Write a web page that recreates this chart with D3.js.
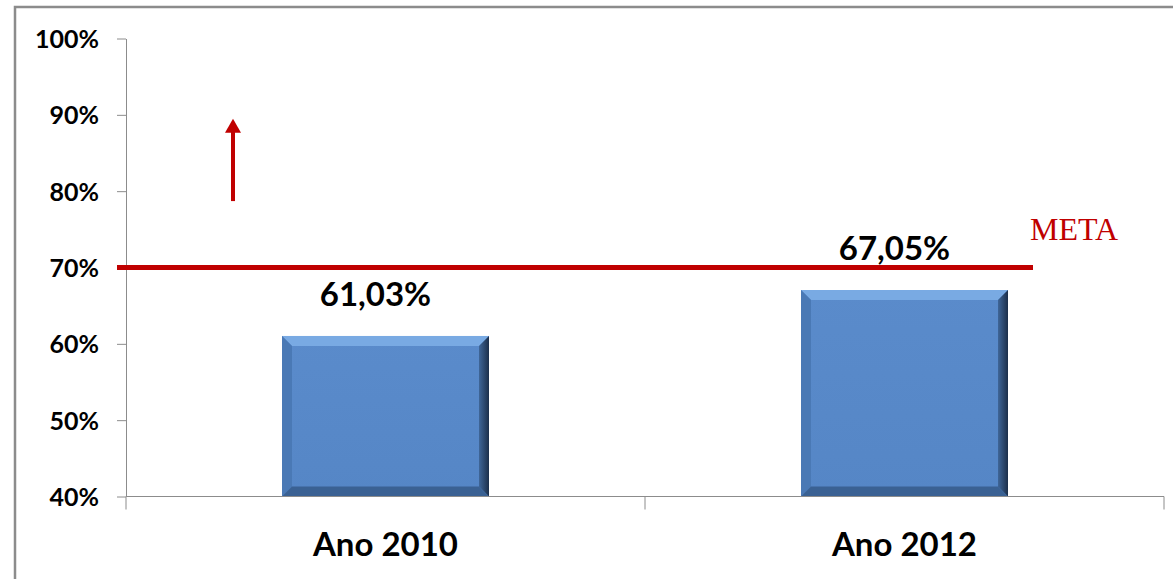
<!DOCTYPE html>
<html>
<head>
<meta charset="utf-8">
<script src="https://cdn.jsdelivr.net/npm/d3@7"></script>
<style>
  body { margin: 0; background: #fff; }
  svg { display: block; }
</style>
</head>
<body>
<div id="chart"></div>
<script>
// data
var categories = ["Ano 2010", "Ano 2012"];
var values = [61.03, 67.05];
var valueLabels = ["61,03%", "67,05%"];
var yTicks = [40, 50, 60, 70, 80, 90, 100];
var meta = 70;
var metaLabel = "META";
var arrowRange = [78.7, 89.5];

var W = 1173, H = 579;
var margin = { top: 38.5, right: 9, bottom: 82.5, left: 126 };
var width = W - margin.left - margin.right,
    height = H - margin.top - margin.bottom;

var svg = d3.select("#chart").append("svg")
    .attr("width", W)
    .attr("height", H);

// outer frame
svg.append("rect")
    .attr("x", 15).attr("y", 7)
    .attr("width", W).attr("height", H)
    .attr("fill", "none")
    .attr("stroke", "#8c8c8c")
    .attr("stroke-width", 2.5);

var defs = svg.append("defs");
var grad = defs.append("linearGradient").attr("id", "barFill")
    .attr("x1", 0).attr("y1", 0).attr("x2", 0).attr("y2", 1);
grad.append("stop").attr("offset", "0%").attr("stop-color", "#5a8bcb");
grad.append("stop").attr("offset", "100%").attr("stop-color", "#5586c6");
var rgrad = defs.append("linearGradient").attr("id", "rightFill")
    .attr("x1", 0).attr("y1", 0).attr("x2", 1).attr("y2", 0);
rgrad.append("stop").attr("offset", "0%").attr("stop-color", "#3f6698");
rgrad.append("stop").attr("offset", "100%").attr("stop-color", "#1c2f4a");

var g = svg.append("g")
    .attr("transform", "translate(" + margin.left + "," + margin.top + ")");

var x = d3.scaleBand()
    .domain(categories)
    .range([0, width]);

var y = d3.scaleLinear()
    .domain([40, 100])
    .range([height, 0]);

var sans = "Lato, 'Open Sans', sans-serif";

// Y axis
var yAxis = g.append("g")
    .call(d3.axisLeft(y).tickValues(yTicks).tickSize(9).tickSizeOuter(0)
        .tickFormat(function (d) { return d + "%"; }));
yAxis.select(".domain").attr("stroke", "#8c8c8c");
yAxis.selectAll(".tick line").attr("stroke", "#8c8c8c");
yAxis.selectAll(".tick text")
    .attr("x", -27)
    .attr("dy", "0.36em")
    .style("font-family", sans)
    .style("font-weight", "bold")
    .style("font-size", "25px")
    .attr("fill", "#000");

// bars with bevel
var bw = 207;
var bars = g.selectAll(".bar")
    .data(categories)
    .enter().append("g")
    .attr("class", "bar")
    .attr("transform", function (d, i) {
        return "translate(" + (x(d) + x.bandwidth() / 2 - bw / 2) + "," + y(values[i]) + ")";
    });

bars.append("rect")
    .attr("width", bw)
    .attr("height", function (d, i) { return height - y(values[i]); })
    .attr("fill", "url(#barFill)");

var bev = 10;
// top bevel (light)
bars.append("path")
    .attr("d", function (d, i) {
        return "M0,0 L" + bw + ",0 L" + (bw - bev) + "," + bev + " L" + bev + "," + bev + "Z";
    })
    .attr("fill", "#79aae3");
// left bevel
bars.append("path")
    .attr("d", function (d, i) {
        var h = height - y(values[i]);
        return "M0,0 L" + bev + "," + bev + " L" + bev + "," + (h - bev) + " L0," + h + "Z";
    })
    .attr("fill", "#4a79b5");
// right bevel (dark)
bars.append("path")
    .attr("d", function (d, i) {
        var h = height - y(values[i]);
        return "M" + bw + ",0 L" + (bw - bev) + "," + bev + " L" + (bw - bev) + "," + (h - bev) + " L" + bw + "," + h + "Z";
    })
    .attr("fill", "url(#rightFill)");
// bottom bevel
bars.append("path")
    .attr("d", function (d, i) {
        var h = height - y(values[i]);
        return "M0," + h + " L" + bev + "," + (h - bev) + " L" + (bw - bev) + "," + (h - bev) + " L" + bw + "," + h + "Z";
    })
    .attr("fill", "#3a6193");

// X axis
var xAxisG = g.append("g")
    .attr("transform", "translate(0," + height + ")");
xAxisG.append("line")
    .attr("x1", 0).attr("x2", width)
    .attr("stroke", "#8c8c8c");
var xTicks = [0, width / 2, width];
xAxisG.selectAll(".xt")
    .data(xTicks)
    .enter().append("line")
    .attr("x1", function (d) { return d; })
    .attr("x2", function (d) { return d; })
    .attr("y1", 0).attr("y2", 13)
    .attr("stroke", "#8c8c8c");
xAxisG.selectAll(".xl")
    .data(categories)
    .enter().append("text")
    .attr("x", function (d) { return x(d) + x.bandwidth() / 2; })
    .attr("y", 59)
    .attr("text-anchor", "middle")
    .style("font-family", sans)
    .style("font-weight", "bold")
    .style("font-size", "33px")
    .text(function (d) { return d; });

// value labels (sit a little left of the bar centre)
g.selectAll(".vl")
    .data(categories)
    .enter().append("text")
    .attr("x", function (d) { return x(d) + x.bandwidth() / 2 - 10; })
    .attr("y", function (d, i) { return y(values[i]) - 30; })
    .attr("text-anchor", "middle")
    .style("font-family", sans)
    .style("font-weight", "bold")
    .style("font-size", "33px")
    .text(function (d, i) { return valueLabels[i]; });

// meta line
g.append("line")
    .attr("x1", -9).attr("x2", 907)
    .attr("y1", y(meta)).attr("y2", y(meta))
    .attr("stroke", "#c00000")
    .attr("stroke-width", 5);
g.append("text")
    .attr("x", 904)
    .attr("y", y(meta) - 28)
    .attr("fill", "#c00000")
    .style("font-family", "'Liberation Serif', 'DejaVu Serif', serif")
    .style("font-size", "32px")
    .text(metaLabel);

// arrow
var ax = 107;
g.append("line")
    .attr("x1", ax).attr("x2", ax)
    .attr("y1", y(arrowRange[0])).attr("y2", y(arrowRange[1]) + 12)
    .attr("stroke", "#c00000")
    .attr("stroke-width", 4);
g.append("path")
    .attr("d", "M" + (ax - 8) + "," + (y(arrowRange[1]) + 14) + " L" + ax + "," + y(arrowRange[1]) + " L" + (ax + 8) + "," + (y(arrowRange[1]) + 14) + "Z")
    .attr("fill", "#c00000");
</script>
</body>
</html>
